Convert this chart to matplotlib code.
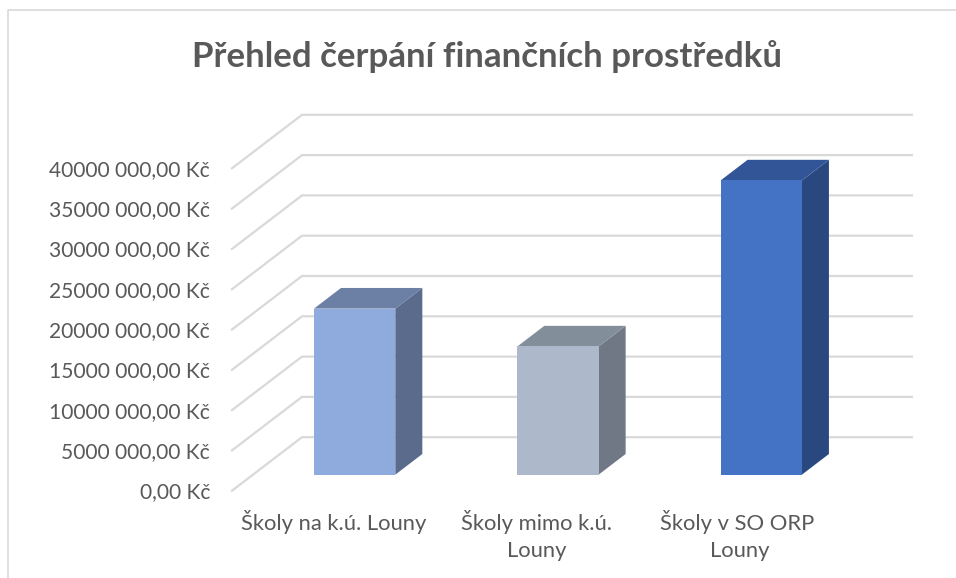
import matplotlib
matplotlib.use("Agg")
import matplotlib.pyplot as plt
from matplotlib.patches import Polygon

plt.rcParams['font.family'] = ['Lato', 'DejaVu Sans']

title = "Přehled čerpání finančních prostředků"
categories = ["Školy na k.ú. Louny", "Školy mimo k.ú.\nLouny", "Školy v SO ORP \nLouny"]
values = [20.6e6, 15.9e6, 36.5e6]
ticks = [0, 5e6, 10e6, 15e6, 20e6, 25e6, 30e6, 35e6, 40e6]
tick_labels = ["0,00 Kč", "5000 000,00 Kč", "10000 000,00 Kč", "15000 000,00 Kč", "20000 000,00 Kč",
               "25000 000,00 Kč", "30000 000,00 Kč", "35000 000,00 Kč", "40000 000,00 Kč"]
front_colors = ["#8FAADC", "#ADB9CA", "#4472C4"]
side_colors = ["#5B6B8C", "#6F7884", "#2A4880"]
top_colors = ["#6C7FA5", "#838E9B", "#325597"]

# sikma projekce 3D: hloubka 0..1 posouva bod doprava a nahoru
DX = 70 / 203.3
DY = 53.5 / 8.06 * 1e6


def proj(x, y, d):
    return x + d * DX, y + d * DY


fig = plt.figure(figsize=(9.56, 5.78), dpi=100)
ax = fig.add_axes([0, 0, 1, 1])
ax.set_xlim(-232 / 203.3, 724 / 203.3)
ax.set_ylim(-87.3 / 8.06 * 1e6, 490.7 / 8.06 * 1e6)
ax.axis("off")

# ramecek grafu
fig.add_artist(plt.Line2D([8 / 956, 8 / 956, 1], [0, 1 - 10 / 578, 1 - 10 / 578], color="#D9D9D9", lw=1.2))

# mrizka: sikma cast a zadni stena
for t in ticks:
    xs = [proj(0, t, 0)[0], proj(0, t, 1)[0], proj(3, t, 1)[0]]
    ys = [proj(0, t, 0)[1], proj(0, t, 1)[1], proj(3, t, 1)[1]]
    ax.plot(xs, ys, color="#D9D9D9", lw=1.6, solid_joinstyle="miter", zorder=1)

# sloupce
for i, v in enumerate(values):
    x0 = i + 0.5 - 0.2
    x1 = i + 0.5 + 0.2
    d0 = 0.3
    d1 = 0.686
    front = [proj(x0, 0, d0), proj(x1, 0, d0), proj(x1, v, d0), proj(x0, v, d0)]
    side = [proj(x1, 0, d0), proj(x1, 0, d1), proj(x1, v, d1), proj(x1, v, d0)]
    top = [proj(x0, v, d0), proj(x1, v, d0), proj(x1, v, d1), proj(x0, v, d1)]
    ax.add_patch(Polygon(side, closed=True, fc=side_colors[i], ec="none", zorder=3))
    ax.add_patch(Polygon(top, closed=True, fc=top_colors[i], ec="none", zorder=3))
    ax.add_patch(Polygon(front, closed=True, fc=front_colors[i], ec="none", zorder=4))

    ax.text(i + 0.5, -2.4e6, categories[i], ha="center", va="top", fontsize=15.8, color="#595959", linespacing=1.45)

# popisky osy y
for t, lab in zip(ticks, tick_labels):
    ax.text(-22 / 203.3, t - 0.19e6, lab, ha="right", va="center", fontsize=15.1, color="#595959")

fig.text(487 / 956, 1 - 57 / 578, title, ha="center", va="center", fontsize=25.1, fontweight="bold", color="#595959")

fig.savefig("out.png", dpi=100)
